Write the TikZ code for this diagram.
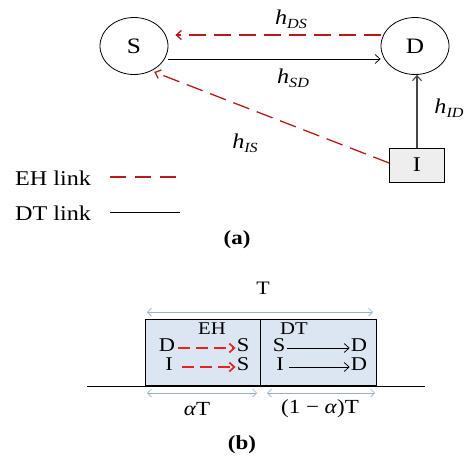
\documentclass[tikz,border=0pt]{standalone}
\usepackage{fontspec}
\setmainfont[FakeStretch=1.15]{Liberation Serif}
\usetikzlibrary{shapes.geometric,arrows.meta}
\definecolor{ehred}{RGB}{185,25,25}
\definecolor{ehbright}{RGB}{225,35,35}
\definecolor{dimgray}{RGB}{150,178,200}
\definecolor{boxblue}{RGB}{220,230,242}
\definecolor{igray}{RGB}{238,238,238}
\definecolor{idgray}{RGB}{70,70,70}
\newcommand{\hlab}[1]{\textit{h}\raisebox{-0.4ex}{\fontsize{14}{14}\selectfont\textit{#1}}}
\begin{document}
\begin{tikzpicture}[x=1pt,y=-1pt,
 lbl/.style={font=\fontsize{21}{21}\selectfont, inner sep=0},
 rowlbl/.style={font=\fontsize{19.5}{19.5}\selectfont, inner sep=0, text height=0.66em, text depth=0pt},
 smalllbl/.style={font=\fontsize{18}{18}\selectfont, inner sep=0, text height=0.66em, text depth=0pt},
 nodeell/.style={ellipse, draw, line width=0.8pt, minimum width=68pt, minimum height=57pt, inner sep=0, font=\fontsize{22}{22}\selectfont},
 ehline/.style={draw=ehred, dash pattern=on 17pt off 8pt, line width=1.3pt},
 ehsmall/.style={draw=ehbright, dash pattern=on 12pt off 6pt, line width=1.7pt},
 dtline/.style={draw=black, line width=0.75pt},
 tip/.style={-{Straight Barb[length=5pt,width=9pt]}},
 dimarrow/.style={draw=dimgray, line width=0.7pt, {Straight Barb[length=4pt,width=8pt]}-{Straight Barb[length=4pt,width=8pt]}},
 blbox/.style={draw, line width=0.8pt, fill=boxblue, minimum height=66pt, inner sep=0},
]
\useasboundingbox (0,0) rectangle (465,464);
% (a)
\node[nodeell] (S) at (134,46) {S};
\node[nodeell] (D) at (415,46) {D};
\node[draw, line width=0.8pt, fill=igray, minimum width=55pt, minimum height=34pt, inner sep=0, font=\fontsize{21}{21}\selectfont] (I) at (417,165) {I};
\draw[ehline, tip] ([yshift=11pt]D.west) -- ([xshift=7pt,yshift=11pt]S.east);
\draw[dtline, tip] ([yshift=-13pt]S.east) -- ([yshift=-13pt]D.west);
\draw[ehline, tip, shorten >=3pt] ([yshift=2pt]I.west) -- (S.-55);
\draw[draw=idgray, line width=1.1pt, tip] (I.north) -- (I.north |- D.south);
\node[lbl] (hds) at (291,19) {\hlab{DS}};
\node[lbl] (hsd) at (293,78) {\hlab{SD}};
\node[lbl] (hid) at (449,108) {\hlab{ID}};
\node[lbl] (his) at (245,143) {\hlab{IS}};
\node[lbl, anchor=west] (ehl) at (15,178) {EH link};
\coordinate (ehs) at (110,177); \coordinate (ehe) at (180,177);
\draw[ehline, dash pattern=on 16pt off 9pt] (ehs) -- (ehe);
\node[lbl, anchor=west] (dtl) at (15,213) {DT link};
\coordinate (dts) at (110,212); \coordinate (dte) at (180,212);
\draw[dtline] (dts) -- (dte);
\node[lbl, font=\fontsize{20}{20}\selectfont\bfseries] (cap-a) at (237,240) {(a)};
% (b)
\node[lbl, font=\fontsize{19}{19}\selectfont] (T) at (263,288) {T};
\coordinate (tl) at (147,312); \coordinate (tr) at (373,312);
\draw[dimarrow] (tl) -- (tr);
\coordinate (bl) at (87,386); \coordinate (br) at (425,386);
\draw[line width=0.7pt] (bl) -- (br);
\node[blbox, minimum width=115pt] (ehbox) at (202.5,352) {};
\node[blbox, minimum width=116pt] (dtbox) at (318,352) {};
\node[smalllbl] (ehh) at (212,331) {EH};
\node[rowlbl] (d1) at (167,348) {D};
\node[rowlbl] (s1) at (243,348) {S};
\node[rowlbl] (i1) at (169,367) {I};
\node[rowlbl] (s2) at (243,367) {S};
\draw[ehsmall, tip] ([xshift=3pt]d1.east) -- ([xshift=-1pt]s1.west);
\draw[ehsmall, tip] ([xshift=9pt]i1.east) -- ([xshift=-1pt]s2.west);
\node[smalllbl] (dth) at (294,331) {DT};
\node[rowlbl] (s3) at (279,348) {S};
\node[rowlbl] (d3) at (359,348) {D};
\node[rowlbl] (i3) at (280,367) {I};
\node[rowlbl] (d4) at (359,367) {D};
\draw[dtline, tip] ([xshift=2pt]s3.east) -- ([xshift=-1pt]d3.west);
\draw[dtline, tip] ([xshift=5pt]i3.east) -- ([xshift=-1pt]d4.west);
\coordinate (al) at (147,393); \coordinate (ar) at (257,393);
\draw[dimarrow] (al) -- (ar);
\coordinate (cl) at (267,393); \coordinate (cr) at (375,393);
\draw[dimarrow] (cl) -- (cr);
\node[lbl, font=\fontsize{20}{20}\selectfont] (aT) at (197,409) {\textit{α}T};
\node[lbl, font=\fontsize{20}{20}\selectfont] (baT) at (320,409) {(1 − \textit{α})T};
\node[lbl, font=\fontsize{20}{20}\selectfont\bfseries] (cap-b) at (242,445) {(b)};
\end{tikzpicture}
\end{document}
